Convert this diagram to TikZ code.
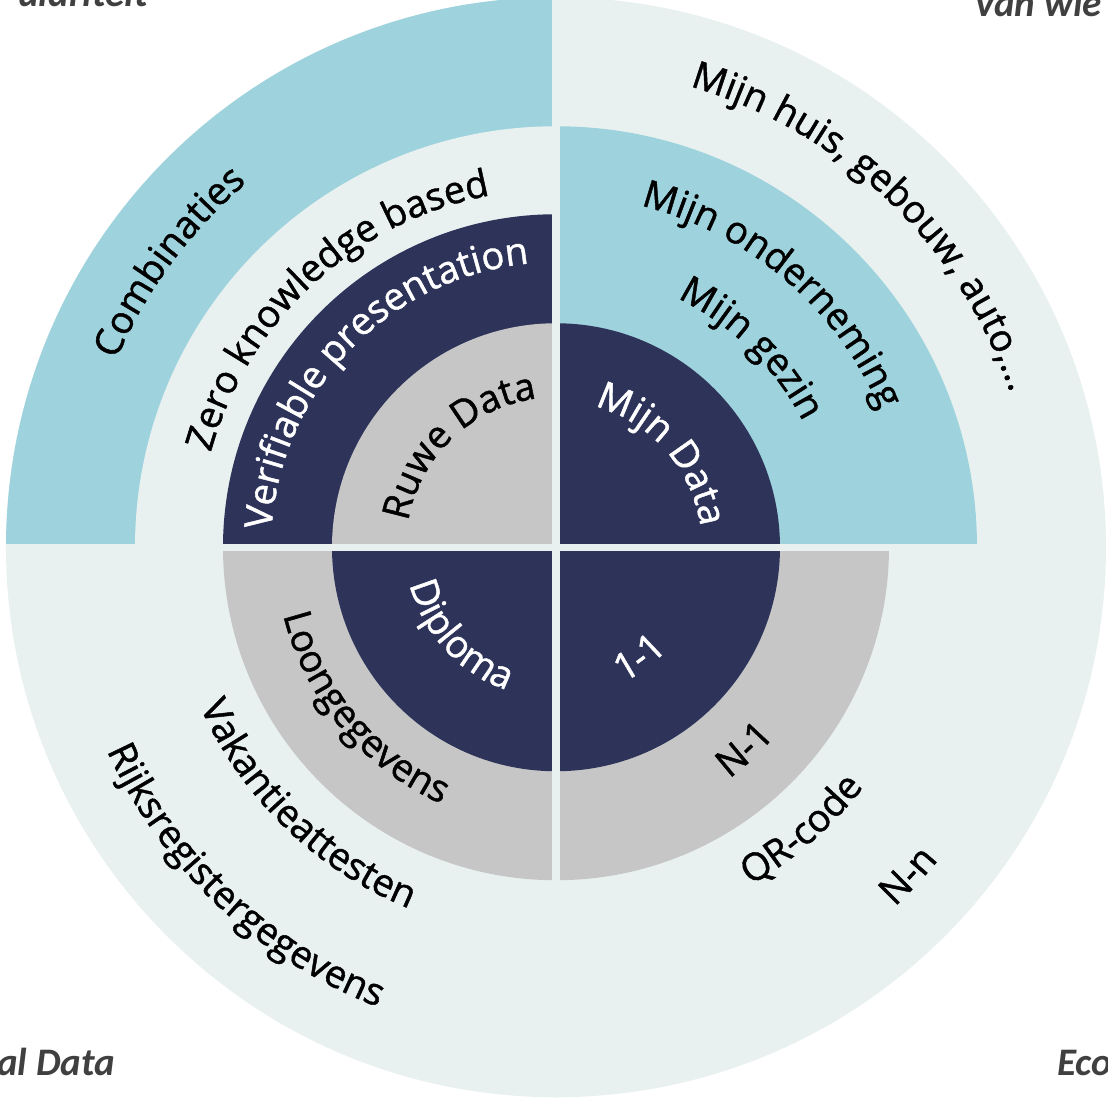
\documentclass[tikz,border=0pt]{standalone}
\usepackage{fontspec}
\setmainfont{Open Sans}
\newfontfamily\lblfamily{Open Sans}[FakeBold=1.2]
\newfontfamily\cornerfont{Carlito}
\usetikzlibrary{decorations.text}
\definecolor{pale}{RGB}{232,241,240}
\definecolor{sky}{RGB}{158,211,221}
\definecolor{navy}{RGB}{45,51,89}
\definecolor{stone}{RGB}{198,198,198}
\definecolor{ink}{RGB}{64,64,64}
\newcommand\lbl{\lblfamily\fontsize{38bp}{45bp}\selectfont}
% text on a circle, read clockwise (top half)
\newcommand\cwtext[5]{\path[decorate,decoration={text along path,text align=center,text color=#4,text={|\lbl|#5}}] ({#1+#3}:#2) arc[start angle={#1+#3},end angle={#1-#3},radius=#2];}
% text on a circle, read counter clockwise (bottom half)
\newcommand\ccwtext[5]{\path[decorate,decoration={text along path,text align=center,text color=#4,text={|\lbl|#5}}] ({#1-#3}:#2) arc[start angle={#1-#3},end angle={#1+#3},radius=#2];}

\begin{document}
\begin{tikzpicture}[x=1bp,y=1bp,
  corner/.style={text=ink,inner sep=0pt,font=\cornerfont\bfseries\itshape\fontsize{39bp}{47bp}\selectfont}]
\useasboundingbox (-556,-554.75) rectangle (552,547.25);
\fill[pale] (0,0) circle[radius=550];
\foreach \a/\r/\c in {90/550/sky,90/421/pale,90/333/navy,90/224/stone,
                      0/421/sky,0/224/navy,
                      180/333/stone,180/224/navy,
                      270/333/stone,270/224/navy}
  \fill[\c] (0,0) -- (\a:\r) arc[start angle=\a,delta angle=90,radius=\r] -- cycle;
\begin{scope}
\clip (0,0) circle[radius=550];
\fill[pale] (-3.75,-560) rectangle (3.75,560);
\fill[pale] (-560,-3.75) rectangle (560,3.75);
\end{scope}

\cwtext{143.6}{478}{40}{black}{Combinaties}
\cwtext{132.6}{358}{60}{black}{Zero knowledge based}
\cwtext{135.9}{285}{70}{white}{Verifiable presentation}
\cwtext{133.7}{150}{80}{black}{Ruwe Data}
\cwtext{46.3}{480}{50}{black}{Mijn huis, gebouw, auto,...}
\cwtext{49.5}{352}{60}{black}{Mijn onderneming}
\cwtext{45.5}{277}{60}{black}{Mijn gezin}
\cwtext{41.4}{146}{80}{white}{Mijn Data}
\ccwtext{222.6}{151}{80}{white}{Diploma}
\ccwtext{220}{281}{60}{black}{Loongegevens}
\ccwtext{226}{390}{50}{black}{Vakantieattesten}
\ccwtext{226.6}{493}{40}{black}{Rijksregistergegevens}
\ccwtext{307}{151}{60}{white}{1-1}
\ccwtext{313}{289}{40}{black}{N-1}
\ccwtext{311}{390}{40}{black}{QR-code}
\ccwtext{317}{494}{30}{black}{N-n}

\node[corner,anchor=base east] (granul) at (-408,540.25) {ulariteit};
\node[corner,anchor=base west] (vanwie) at (417,530.25) {Van wie};
\node[corner,anchor=base east] (rawdata) at (-441,-527.75) {al Data};
\node[corner,anchor=base west] (eco) at (501,-527.75) {Eco};
\end{tikzpicture}
\end{document}
